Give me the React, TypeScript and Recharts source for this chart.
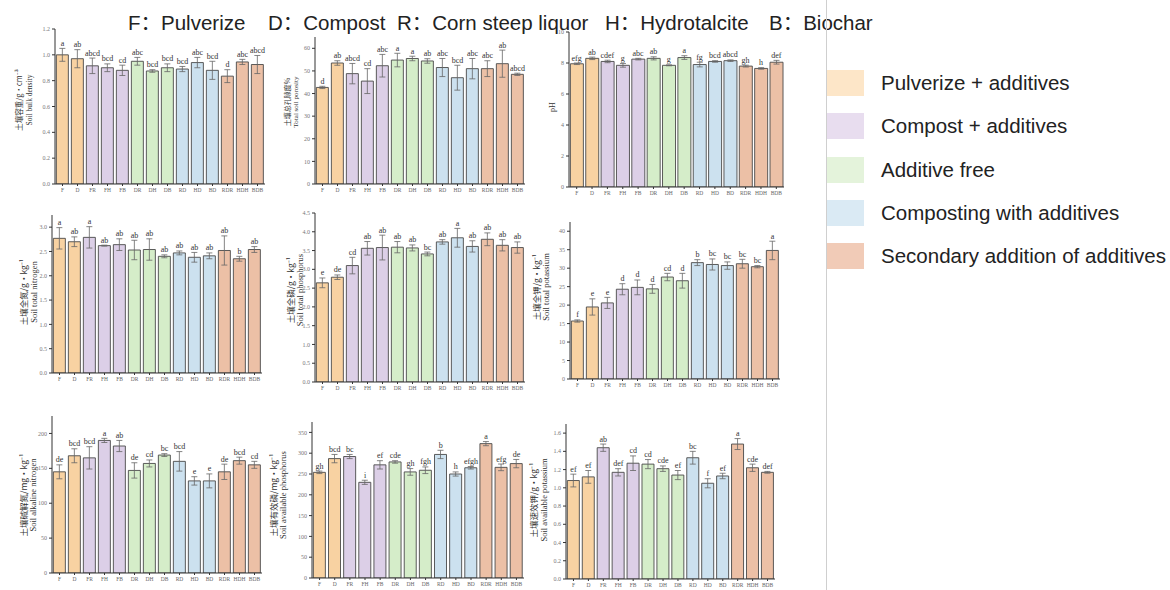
import React from 'react';
import { ComposedChart, Bar, Line, XAxis, YAxis, ErrorBar, LabelList, Cell } from 'recharts';

const categories = ['F', 'D', 'FR', 'FH', 'FB', 'DR', 'DH', 'DB', 'RD', 'HD', 'BD', 'RDR', 'HDH', 'BDB'];
const groupOf = [0, 0, 1, 1, 1, 2, 2, 2, 3, 3, 3, 4, 4, 4];
const barColors = ['#F8D2A2', '#DCCFE7', '#D5EDC9', '#CCE1EF', '#ECC0A6'];
const legendColors = ['#FDE6C8', '#E8DDEF', '#E4F3DB', '#DAEAF4', '#F1CBB7'];
const legendLabels = ['Pulverize + additives', 'Compost + additives', 'Additive free', 'Composting with additives', 'Secondary addition of additives'];
const headerParts = ['F：Pulverize', 'D：Compost', 'R：Corn steep liquor', 'H：Hydrotalcite', 'B：Biochar'];
const headerX = [128, 268, 397, 605, 769];

const bulkDensity = [1.0, 0.97, 0.915, 0.9, 0.88, 0.95, 0.875, 0.9, 0.89, 0.94, 0.88, 0.835, 0.945, 0.925];
const bulkDensityErr = [0.05, 0.07, 0.06, 0.03, 0.04, 0.03, 0.01, 0.03, 0.02, 0.04, 0.07, 0.05, 0.02, 0.07];
const bulkDensityLetters = ['a', 'ab', 'abcd', 'bcd', 'cd', 'abc', 'bcd', 'bcd', 'bcd', 'abc', 'bcd', 'd', 'abc', 'abcd'];

const porosity = [42.7, 53.5, 48.8, 45.5, 52.3, 54.8, 55.5, 54.4, 51.5, 47.0, 51.0, 51.0, 53.2, 48.5];
const porosityErr = [0.5, 1.0, 4.5, 5.5, 5.0, 3.0, 1.0, 1.0, 4.0, 5.5, 4.5, 3.5, 6.0, 0.5];
const porosityLetters = ['d', 'ab', 'abcd', 'cd', 'abc', 'a', 'a', 'ab', 'abc', 'bcd', 'abc', 'abc', 'ab', 'abcd'];

const ph = [7.95, 8.3, 8.1, 7.85, 8.25, 8.3, 7.85, 8.35, 7.9, 8.1, 8.15, 7.8, 7.65, 8.05];
const phErr = [0.05, 0.08, 0.08, 0.12, 0.05, 0.1, 0.03, 0.12, 0.15, 0.05, 0.05, 0.06, 0.05, 0.12];
const phLetters = ['efg', 'ab', 'cdef', 'g', 'abc', 'ab', 'g', 'a', 'fg', 'bcd', 'abcd', 'gh', 'h', 'def'];

const totalN = [2.77, 2.7, 2.79, 2.62, 2.64, 2.53, 2.54, 2.4, 2.47, 2.38, 2.41, 2.52, 2.35, 2.54];
const totalNErr = [0.22, 0.1, 0.22, 0.01, 0.12, 0.2, 0.22, 0.03, 0.04, 0.1, 0.06, 0.3, 0.05, 0.06];
const totalNLetters = ['a', 'ab', 'a', 'ab', 'ab', 'ab', 'ab', 'ab', 'ab', 'ab', 'ab', 'ab', 'b', 'ab'];

const totalP = [2.64, 2.79, 3.1, 3.56, 3.58, 3.59, 3.57, 3.41, 3.73, 3.84, 3.61, 3.8, 3.64, 3.58];
const totalPErr = [0.13, 0.06, 0.22, 0.18, 0.33, 0.15, 0.08, 0.05, 0.06, 0.25, 0.15, 0.17, 0.15, 0.15];
const totalPLetters = ['e', 'de', 'cd', 'ab', 'ab', 'ab', 'ab', 'bc', 'ab', 'a', 'ab', 'ab', 'ab', 'ab'];

const totalK = [15.7, 19.5, 20.6, 24.3, 24.8, 24.4, 27.6, 26.6, 31.5, 31.0, 30.7, 31.2, 30.4, 34.8];
const totalKErr = [0.3, 2.2, 1.5, 1.5, 2.0, 1.2, 1.0, 2.0, 0.8, 1.5, 1.0, 1.2, 0.3, 2.5];
const totalKLetters = ['f', 'e', 'e', 'd', 'd', 'd', 'cd', 'd', 'b', 'bc', 'bc', 'bc', 'bc', 'a'];

const alkN = [145, 168, 165, 190, 182, 147, 157, 169, 160, 132, 132, 145, 161, 155];
const alkNErr = [10, 10, 16, 3, 8, 11, 5, 2, 14, 6, 10, 11, 5, 5];
const alkNLetters = ['de', 'bcd', 'bcd', 'a', 'ab', 'de', 'cd', 'bc', 'bcd', 'e', 'e', 'de', 'bcd', 'cd'];

const availP = [254, 287, 292, 230, 272, 279, 255, 259, 297, 250, 265, 323, 266, 275];
const availPErr = [3, 10, 5, 5, 10, 3, 8, 8, 10, 5, 3, 5, 8, 10];
const availPLetters = ['gh', 'bcd', 'bc', 'i', 'ef', 'cde', 'gh', 'fgh', 'b', 'h', 'efgh', 'a', 'efg', 'de'];

const availK = [1.08, 1.12, 1.44, 1.17, 1.27, 1.26, 1.21, 1.14, 1.33, 1.05, 1.13, 1.48, 1.22, 1.17];
const availKErr = [0.07, 0.07, 0.04, 0.04, 0.08, 0.05, 0.03, 0.05, 0.07, 0.05, 0.03, 0.06, 0.04, 0.01];
const availKLetters = ['ef', 'ef', 'ab', 'def', 'cd', 'cd', 'cde', 'ef', 'bc', 'f', 'ef', 'a', 'cde', 'def'];

type PanelProps = {
  values: number[];
  errs: number[];
  letters: string[];
  domainMax: number;
  ticks: number[];
  decimals: number;
  x0: number;
  x1: number;
  yTop: number;
  yBottom: number;
};

const SERIF = '"Liberation Serif", "DejaVu Serif", serif';

const renderLetter = (props: any) => {
  const { x, y, value } = props;
  if (x == null || y == null) return null;
  return (
    <text x={x} y={Number(y) - 2.5} textAnchor="middle" fontSize={8} fill="#333" fontFamily={SERIF}>
      {value}
    </text>
  );
};

function Panel(p: PanelProps) {
  const data = categories.map((c, i) => ({
    name: c,
    v: p.values[i],
    err: p.errs[i],
    top: p.values[i] + p.errs[i],
    letter: p.letters[i],
  }));
  const mt = 15;
  const xh = 18;
  const yw = 34;
  const width = p.x1 - p.x0 + yw + 4;
  const height = p.yBottom - p.yTop + mt + xh;
  return (
    <div style={{ position: 'absolute', left: p.x0 - yw, top: p.yTop - mt }}>
      <ComposedChart width={width} height={height} data={data} margin={{ top: mt, right: 4, bottom: 0, left: 0 }} barCategoryGap="9%">
        <XAxis
          dataKey="name"
          interval={0}
          height={xh}
          tickSize={2}
          tick={{ fontSize: 5.5, fill: '#666', fontFamily: SERIF }}
          axisLine={{ stroke: '#333', strokeWidth: 1 }}
          tickLine={{ stroke: '#333' }}
        />
        <YAxis
          width={yw}
          domain={[0, p.domainMax]}
          ticks={p.ticks}
          allowDataOverflow
          tickSize={3}
          tickFormatter={(t: number) => t.toFixed(p.decimals)}
          tick={{ fontSize: 6, fill: '#777', fontFamily: SERIF }}
          axisLine={{ stroke: '#333', strokeWidth: 1 }}
          tickLine={{ stroke: '#333' }}
        />
        <Bar dataKey="v" stroke="#4a4a4a" strokeWidth={0.9} isAnimationActive={false}>
          {data.map((d, i) => (
            <Cell key={d.name} fill={barColors[groupOf[i]]} />
          ))}
          <ErrorBar dataKey="err" width={3} stroke="#666" strokeWidth={0.8} direction="y" />
        </Bar>
        <Line dataKey="top" stroke="transparent" dot={false} activeDot={false} isAnimationActive={false}>
          <LabelList dataKey="letter" content={renderLetter} />
        </Line>
      </ComposedChart>
    </div>
  );
}

type AxisLabel = { cn: string; en: string; xCn: number; xEn: number; y: number; size: number };

const axisLabels: AxisLabel[] = [
  { cn: '土壤容重/g·cm⁻³', en: 'Soil bulk density', xCn: 18, xEn: 29, y: 100, size: 7.5 },
  { cn: '土壤总孔隙度%', en: 'Total soil porosity', xCn: 287, xEn: 296, y: 102, size: 7 },
  { cn: '', en: 'pH', xCn: 0, xEn: 552, y: 107, size: 8 },
  { cn: '土壤全氮/g·kg⁻¹', en: 'Soil total nitrogen', xCn: 23, xEn: 34, y: 292, size: 8.5 },
  { cn: '土壤全磷/g·kg⁻¹', en: 'Soil total phosphorus', xCn: 290, xEn: 300, y: 290, size: 8.5 },
  { cn: '土壤全钾/g·kg⁻¹', en: 'Soil total potassium', xCn: 536, xEn: 546, y: 287, size: 8.5 },
  { cn: '土壤碱解氮/mg·kg⁻¹', en: 'Soil alkaline nitrogen', xCn: 23, xEn: 33, y: 495, size: 8.5 },
  { cn: '土壤有效磷/mg·kg⁻¹', en: 'Soil available phosphorus', xCn: 273, xEn: 283, y: 495, size: 8.5 },
  { cn: '土壤速效钾/g·kg⁻¹', en: 'Soil available potassium', xCn: 533, xEn: 544, y: 500, size: 8.5 },
];

export default function App() {
  return (
    <div style={{ position: 'absolute', left: 0, top: 0, width: 1170, height: 590, background: '#fff', overflow: 'hidden' }}>
      {headerParts.map((t, i) => (
        <div
          key={t}
          style={{
            position: 'absolute',
            left: headerX[i],
            top: 6,
            fontFamily: '"Liberation Sans", Arial, "Noto Sans CJK SC", sans-serif',
            fontSize: 20.5,
            color: '#222',
            whiteSpace: 'pre',
          }}
        >
          {t}
        </div>
      ))}

      <Panel values={bulkDensity} errs={bulkDensityErr} letters={bulkDensityLetters} domainMax={1.2} ticks={[0, 0.2, 0.4, 0.6, 0.8, 1.0, 1.2]} decimals={1} x0={55} x1={265} yTop={29} yBottom={184} />
      <Panel values={porosity} errs={porosityErr} letters={porosityLetters} domainMax={65} ticks={[0, 10, 20, 30, 40, 50, 60]} decimals={0} x0={315} x1={525} yTop={37} yBottom={184} />
      <Panel values={ph} errs={phErr} letters={phLetters} domainMax={10} ticks={[0, 2, 4, 6, 8, 10]} decimals={0} x0={569} x1={784} yTop={32} yBottom={187} />

      <Panel values={totalN} errs={totalNErr} letters={totalNLetters} domainMax={3.25} ticks={[0, 0.5, 1.0, 1.5, 2.0, 2.5, 3.0]} decimals={1} x0={52} x1={262} yTop={215} yBottom={373} />
      <Panel values={totalP} errs={totalPErr} letters={totalPLetters} domainMax={4.5} ticks={[0, 0.5, 1.0, 1.5, 2.0, 2.5, 3.0, 3.5, 4.0, 4.5]} decimals={1} x0={315} x1={525} yTop={213} yBottom={382} />
      <Panel values={totalK} errs={totalKErr} letters={totalKLetters} domainMax={42.5} ticks={[0, 5, 10, 15, 20, 25, 30, 35, 40]} decimals={0} x0={570} x1={780} yTop={222} yBottom={379} />

      <Panel values={alkN} errs={alkNErr} letters={alkNLetters} domainMax={225} ticks={[0, 50, 100, 150, 200]} decimals={0} x0={52} x1={262} yTop={416} yBottom={573} />
      <Panel values={availP} errs={availPErr} letters={availPLetters} domainMax={375} ticks={[0, 50, 100, 150, 200, 250, 300, 350]} decimals={0} x0={312} x1={524} yTop={422} yBottom={578} />
      <Panel values={availK} errs={availKErr} letters={availKLetters} domainMax={1.7} ticks={[0, 0.2, 0.4, 0.6, 0.8, 1.0, 1.2, 1.4, 1.6]} decimals={1} x0={566} x1={775} yTop={424} yBottom={579} />

      <svg width={1170} height={590} style={{ position: 'absolute', left: 0, top: 0, pointerEvents: 'none' }}>
        {axisLabels.map((l, i) => (
          <g key={i}>
            {l.cn ? (
              <text
                x={l.xCn}
                y={l.y}
                transform={`rotate(-90 ${l.xCn} ${l.y})`}
                textAnchor="middle"
                dominantBaseline="central"
                fontSize={l.size}
                fill="#333"
                fontFamily='"Noto Sans CJK SC", serif'
              >
                {l.cn}
              </text>
            ) : null}
            <text
              x={l.xEn}
              y={l.y}
              transform={`rotate(-90 ${l.xEn} ${l.y})`}
              textAnchor="middle"
              dominantBaseline="central"
              fontSize={l.size}
              fill="#333"
              fontFamily={SERIF}
            >
              {l.en}
            </text>
          </g>
        ))}
        <line x1={826.5} y1={0} x2={826.5} y2={590} stroke="#cfcfcf" strokeWidth={1} />
      </svg>

      {legendLabels.map((lab, i) => (
        <div key={lab} style={{ position: 'absolute', left: 827, top: 70 + i * 43.3, height: 26, display: 'flex', alignItems: 'center' }}>
          <div style={{ width: 37, height: 26, background: legendColors[i] }} />
          <div
            style={{
              marginLeft: 17,
              fontFamily: '"Liberation Sans", Arial, sans-serif',
              fontSize: 20.5,
              color: '#222',
              whiteSpace: 'nowrap',
            }}
          >
            {lab}
          </div>
        </div>
      ))}
    </div>
  );
}
